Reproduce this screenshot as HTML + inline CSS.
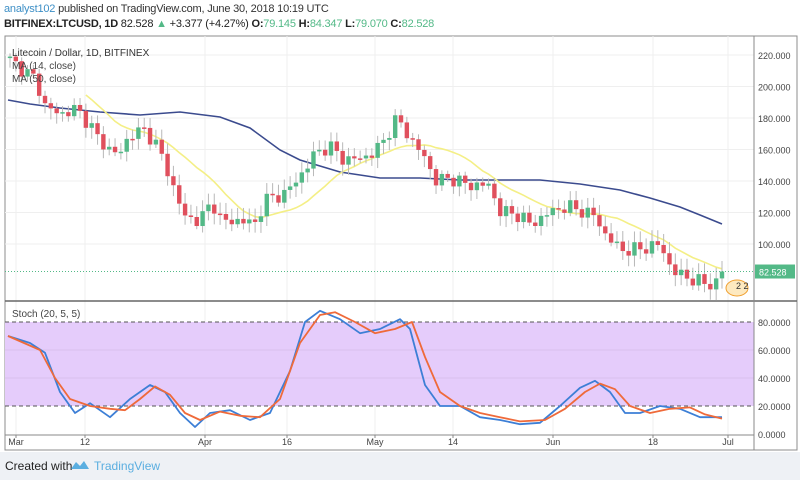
<!DOCTYPE html>
<html><head><meta charset="utf-8"><style>
body{margin:0;width:800px;height:480px;background:#fff;font-family:"Liberation Sans",sans-serif;overflow:hidden;position:relative}
.h1{position:absolute;left:4px;top:3px;font-size:11px;letter-spacing:-0.2px;color:#333}
.h2{position:absolute;left:4px;top:18px;font-size:11px;letter-spacing:-0.2px;color:#222;font-weight:bold}
.g{color:#53b987;font-weight:normal}
.foot{position:absolute;left:0;top:452px;width:800px;height:28px;background:#eef1f5}
</style></head><body>
<div class="h1"><span style="color:#3d8fc6">analyst102</span> published on TradingView.com, June 30, 2018 10:19 UTC</div>
<div class="h2">BITFINEX:LTCUSD, 1D <span style="font-weight:normal">82.528 <span class="g">▲</span> +3.377 (+4.27%)</span> O:<span class="g">79.145</span> H:<span class="g">84.347</span> L:<span class="g">79.070</span> C:<span class="g">82.528</span></div>
<div class="foot"><span style="position:absolute;left:5px;top:7px;font-size:12px;color:#222">Created with</span>
<svg style="position:absolute;left:70px;top:6px" width="20" height="14"><path d="M1 11 L6 4 L10 8 L14 3 L19 11 Z" fill="#5aaee0"/></svg>
<span style="position:absolute;left:94px;top:7px;font-size:12px;color:#5aaee0">TradingView</span></div>
<svg id="s" width="800" height="480" style="position:absolute;left:0;top:0"></svg>
<script>
var s=document.getElementById('s'),o='';
function L(a,b,c,d,col,w,da){o+='<line x1="'+a+'" y1="'+b+'" x2="'+c+'" y2="'+d+'" stroke="'+col+'" stroke-width="'+(w||1)+'"'+(da?' stroke-dasharray="'+da+'"':'')+'/>';}
function T(x,y,t,sz,col,anc){o+='<text x="'+x+'" y="'+y+'" font-size="'+sz+'" fill="'+col+'"'+(anc?' text-anchor="'+anc+'"':'')+' font-family="Liberation Sans,sans-serif">'+t+'</text>';}
function py(p){return 55+(220-p)*1.575} function sy(v){return 434-v*1.4}
o+='<rect x="5" y="36" width="792" height="414" fill="none" stroke="#8c8c8c"/>';
var xt=[[16,'Mar'],[85,'12'],[205,'Apr'],[287,'16'],[375,'May'],[453,'14'],[553,'Jun'],[653,'18'],[728,'Jul']];
xt.forEach(function(a){L(a[0],36,a[0],435,'#efefef');T(a[0],445,a[1],9,'#444','middle');L(a[0],435,a[0],438,'#888')});
for(var p=220;p>=100;p-=20){L(5,py(p),754,py(p),'#efefef');T(758,py(p)+4,p+'.000',9,'#444')}
o+='<rect x="5" y="'+sy(80)+'" width="749" height="'+(sy(20)-sy(80))+'" fill="#e5ccfb"/>';
[60,40].forEach(function(v){L(5,sy(v),754,sy(v),'#d9c0ee')});
L(5,sy(80),754,sy(80),'#555',1,'4,3');L(5,sy(20),754,sy(20),'#555',1,'4,3');
[80,60,40,20,0].forEach(function(v){T(758,sy(v)+4,v+'.0000',9,'#444')});
L(5,301,797,301,'#666',1.5);L(754,36,754,450,'#888');L(5,435,754,435,'#888');
var kp=[[10,217],[20,212],[35,205],[45,188],[60,182],[75,186],[90,176],[100,165],[110,160],[120,157],[130,170],[145,172],[158,162],[168,145],[185,117],[200,115],[212,127],[222,114],[240,115],[255,113],[265,128],[285,132],[305,147],[315,158],[330,162],[345,153],[370,156],[382,164],[395,178],[402,176],[412,165],[425,155],[435,140],[450,142],[470,137],[488,138],[500,121],[520,118],[532,112],[548,120],[568,124],[595,118],[605,106],[622,96],[642,97],[660,100],[672,83],[690,78],[705,75],[715,74],[722,82.5]];
function interp(x){for(var i=1;i<kp.length;i++){if(x<=kp[i][0]){var a=kp[i-1],b=kp[i],t=(x-a[0])/(b[0]-a[0]);return a[1]+t*(b[1]-a[1])}}return kp[kp.length-1][1]}
var N=123,cl=[],xs=[];
for(var d=0;d<N;d++){var x=10+d*(712/122);xs.push(x);cl.push(interp(x)+Math.sin(d*2.3)*3+Math.cos(d*1.7)*2)}
cl[N-1]=82.528;
var m50=[[8,100],[30,104],[60,108],[100,112],[140,115],[180,112],[220,117],[250,128],[280,150],[300,160],[340,172],[380,178],[420,178],[460,180],[540,180],[580,184],[620,190],[650,198],[680,207],[700,215],[722,224]];
o+='<polyline fill="none" stroke="#3b4b8e" stroke-width="1.6" points="'+m50.map(function(a){return a.join(',')}).join(' ')+'"/>';
var m14=[];for(d=13;d<N;d++){var sm=0;for(var k=d-13;k<=d;k++)sm+=cl[k];m14.push(xs[d].toFixed(1)+','+py(sm/14).toFixed(1))}
o+='<polyline fill="none" stroke="#f4ef86" stroke-width="1.6" points="'+m14.join(' ')+'"/>';
for(d=0;d<N;d++){var op=d?cl[d-1]:219,c=cl[d],up=c>=op,col=up?'#53b987':'#e0505d';
 var hi=Math.max(op,c)+2+Math.abs(Math.sin(d*3.1))*5,lo=Math.min(op,c)-2-Math.abs(Math.cos(d*2.7))*5;
 L(xs[d],py(hi),xs[d],py(lo),'#b8b8b8');
 var t=py(Math.max(op,c)),h=Math.max(1.5,py(Math.min(op,c))-t);
 o+='<rect x="'+(xs[d]-2.2)+'" y="'+t+'" width="4.4" height="'+h+'" fill="'+col+'"/>';}
L(5,py(82.528),754,py(82.528),'#53b987',1,'1,2');
o+='<rect x="755" y="'+(py(82.528)-7)+'" width="40" height="14" fill="#53b987"/>';T(759,py(82.528)+4,'82.528',9,'#fff');
o+='<ellipse cx="737" cy="288" rx="11" ry="8" fill="#fde9c0" stroke="#f0a030"/>';T(736,289,'2 2',9,'#333');
T(12,56,'Litecoin / Dollar, 1D, BITFINEX',10,'#333');T(12,69,'MA (14, close)',10,'#444');T(12,82,'MA (50, close)',10,'#444');
T(12,317,'Stoch (20, 5, 5)',10,'#444');
var bk=[[8,70],[30,65],[45,58],[60,30],[75,15],[90,22],[110,12],[130,25],[150,35],[165,30],[180,15],[195,5],[210,15],[230,17],[250,10],[270,15],[290,45],[305,80],[320,88],[340,82],[360,72],[380,75],[400,82],[410,75],[425,35],[440,20],[460,20],[480,12],[500,10],[520,7],[540,8],[560,20],[580,33],[595,38],[610,30],[625,15],[640,15],[660,20],[680,18],[700,12],[722,12]];
var ok=[[8,70],[40,60],[55,40],[70,25],[90,20],[110,18],[125,17],[140,25],[155,34],[170,28],[185,15],[200,10],[220,16],[240,13],[260,12],[280,25],[300,65],[320,85],[335,87],[355,80],[375,72],[395,75],[412,80],[425,55],[440,30],[460,20],[480,15],[500,12],[520,9],[545,10],[565,18],[585,30],[600,36],[615,32],[630,20],[650,15],[670,18],[690,19],[705,14],[722,11]];
function pl(a,c){o+='<polyline fill="none" stroke="'+c+'" stroke-width="1.8" stroke-linejoin="round" points="'+a.map(function(q){return q[0]+','+sy(q[1]).toFixed(1)}).join(' ')+'"/>';}
pl(bk,'#3d7fd6');pl(ok,'#ef6a3a');
s.innerHTML=o;
</script>
</body></html>
